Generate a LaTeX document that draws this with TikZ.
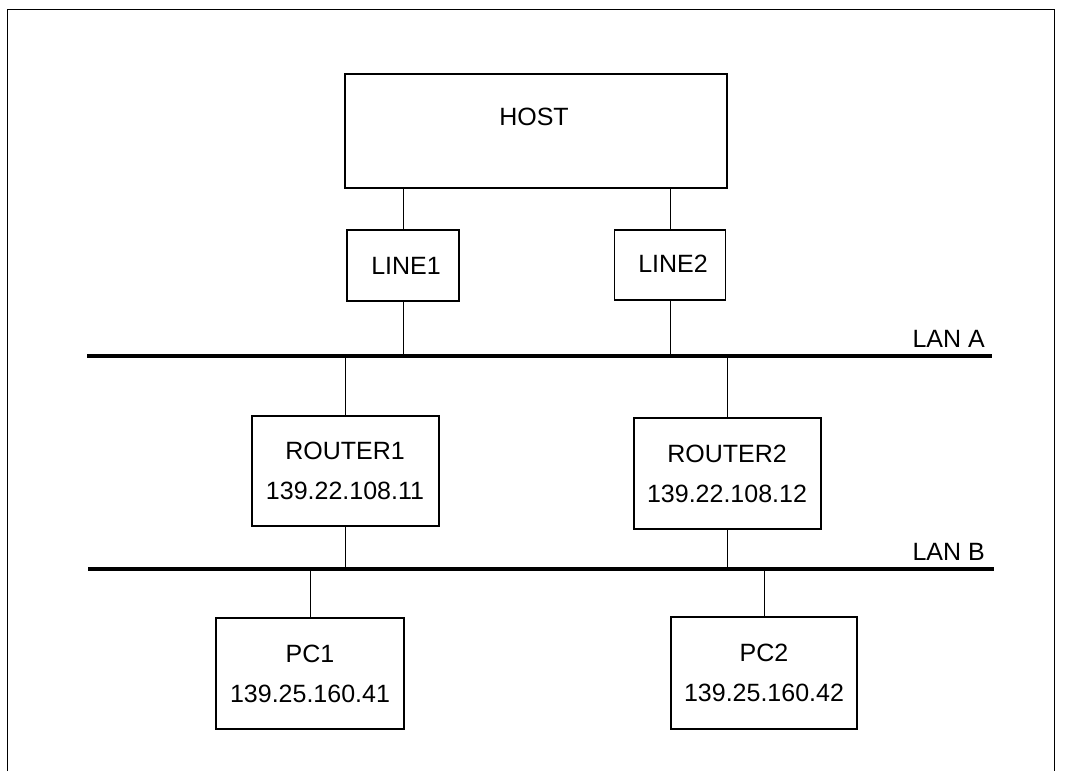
\documentclass[tikz,border=0pt]{standalone}
\usepackage{fontspec}
\setmainfont{Liberation Sans}
\begin{document}
\begin{tikzpicture}[x=1pt,y=-1pt,
  every node/.style={font=\fontsize{25}{40}\selectfont, inner sep=0pt},
  thinbox/.style={draw, line width=1.1pt, anchor=center},
  thickbox/.style={draw, line width=2pt, anchor=center, align=center},
  conn/.style={line width=1pt},
  lan/.style={line width=4pt},
  frame/.style={line width=1pt}]
\useasboundingbox (0,0) rectangle (1068,771);
% frame
\draw[frame] (7,771) -- (7,9) -- (1054,9) -- (1054,771);
% LAN coordinates
\coordinate (lanAl) at (87,356);
\coordinate (lanAr) at (992,356);
\coordinate (lanBl) at (88,569);
\coordinate (lanBr) at (994,569);
\draw[lan] (lanAl) -- (lanAr);
\draw[lan] (lanBl) -- (lanBr);
\node[anchor=base east] (lanAlabel) at (985,347) {LAN A};
\node[anchor=base east] (lanBlabel) at (985,560) {LAN B};
% boxes
\node[thinbox, minimum width=382pt, minimum height=114pt] (host) at (536,131) {};
\node (hostlabel) at (534,117) {HOST};
\node[thinbox, minimum width=112pt, minimum height=71pt] (line1) at (403,265.5) {};
\node (line1label) at (406,266) {LINE1};
\node[thinbox, minimum width=111pt, minimum height=70pt] (line2) at (670,265) {};
\node (line2label) at (673,264) {LINE2};
\node[thickbox, minimum width=187pt, minimum height=110pt] (router1) at (345,471) {ROUTER1\\139.22.108.11};
\node[thickbox, minimum width=187pt, minimum height=111pt] (router2) at (727,473.5) {ROUTER2\\139.22.108.12};
\node[thickbox, minimum width=188pt, minimum height=111pt] (pc1) at (310,673.5) {PC1\\139.25.160.41};
\node[thickbox, minimum width=186pt, minimum height=112pt] (pc2) at (764,673) {PC2\\139.25.160.42};
% connectors
\draw[conn] (line1.north) -- (line1.north |- host.south);
\draw[conn] (line2.north) -- (line2.north |- host.south);
\draw[conn] (line1.south) -- (line1.south |- lanAl);
\draw[conn] (line2.south) -- (line2.south |- lanAl);
\draw[conn] (router1.north) -- (router1.north |- lanAl);
\draw[conn] (router2.north) -- (router2.north |- lanAl);
\draw[conn] (router1.south) -- (router1.south |- lanBl);
\draw[conn] (router2.south) -- (router2.south |- lanBl);
\draw[conn] (pc1.north) -- (pc1.north |- lanBl);
\draw[conn] (pc2.north) -- (pc2.north |- lanBl);
\end{tikzpicture}
\end{document}
